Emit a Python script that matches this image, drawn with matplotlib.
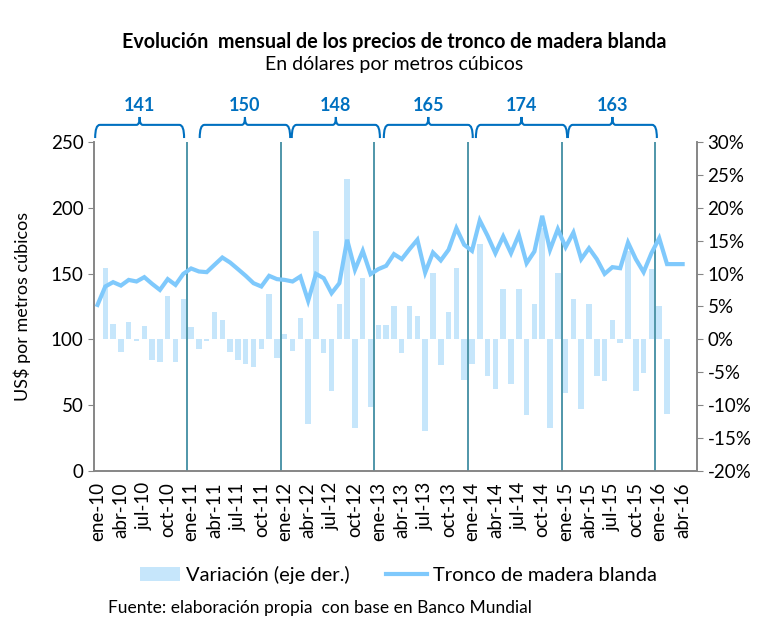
import numpy as np
import matplotlib
matplotlib.use("Agg")
import matplotlib.pyplot as plt
from matplotlib.path import Path
from matplotlib.patches import PathPatch, Patch
from matplotlib.lines import Line2D

plt.rcParams['font.family'] = ['Lato', 'DejaVu Sans']

# Data
meses = ["ene", "feb", "mar", "abr", "may", "jun", "jul", "ago", "sep", "oct", "nov", "dic"]
anios = ["10", "11", "12", "13", "14", "15", "16"]

precio = [
    126.2, 140.2, 143.5, 140.9, 145.2, 144.0, 147.3, 142.2, 137.6, 145.8, 141.4, 149.8,
    153.9, 151.6, 151.1, 156.7, 162.2, 158.4, 153.4, 148.3, 142.7, 140.2, 148.3, 145.8,
    145.2, 144.0, 147.8, 129.3, 149.8, 146.5, 135.1, 142.7, 175.7, 152.9, 167.3, 149.6,
    153.4, 155.9, 164.8, 161.0, 168.6, 175.7, 150.8, 166.0, 160.0, 168.1, 184.5, 171.9,
    167.3, 190.4, 178.7, 165.5, 178.2, 165.5, 179.5, 157.9, 166.8, 193.9, 168.1, 183.8,
    170.1, 181.2, 161.0, 169.3, 161.0, 149.8, 154.9, 154.1, 173.6, 161.0, 151.1, 165.5,
    176.9, 157.2, 157.2, 157.2,
]

variacion = [
    np.nan, 10.8, 2.4, -1.9, 2.7, -0.3, 2.0, -3.1, -3.5, 6.6, -3.5, 6.1,
    1.9, -1.4, -0.2, 4.2, 2.9, -1.9, -3.1, -3.7, -4.2, -1.4, 6.9, -2.9,
    0.8, -1.7, 3.2, -12.9, 16.4, -2.1, -7.8, 5.4, 24.3, -13.4, 9.3, -10.3,
    2.2, 2.2, 5.1, -2.1, 5.1, 3.5, -13.9, 10.1, -3.9, 4.2, 10.8, -6.1,
    -3.7, 14.5, -5.6, -7.6, 7.6, -6.8, 7.6, -11.5, 5.4, 16.9, -13.4, 10.1,
    -8.1, 6.1, -10.6, 5.4, -5.6, -6.3, 2.9, -0.5, 13.4, -7.8, -5.1, 10.7,
    5.1, -11.3, 0.0, 0.0,
]

promedios = ["141", "150", "148", "165", "174", "163"]
# horizontal extent of each brace (in month positions)
llaves = [(-0.3, 11.1), (13.1, 24.7), (24.9, 36.2), (36.7, 48.1), (48.5, 60.2), (60.3, 71.7)]

etiquetas = [f"{m}-{a}" for a in anios for m in meses][:len(precio)]

c_linea = "#7FC9FC"
c_barra = "#C6E6FB"
c_vert = "#31849B"
c_llave = "#0070C0"
c_eje = "#868686"

fig = plt.figure(figsize=(7.66, 6.20), dpi=100)
ax = fig.add_axes([0.1227, 0.2403, 0.7873, 0.5307])
axr = ax.twinx()

x = np.arange(len(precio))
v = np.array(variacion, dtype=float)
axr.bar(x, np.nan_to_num(v), width=0.7, color=c_barra, zorder=1)
ax.plot(x, precio, color=c_linea, lw=3.0, solid_joinstyle="miter", zorder=3)

ax.set_zorder(axr.get_zorder() + 1)
ax.patch.set_visible(False)

for k in range(1, 7):
    ax.axvline(12 * k - 0.5, color=c_vert, lw=1.2, zorder=2)

ax.set_xlim(-0.45, 76.85)
ax.set_ylim(0, 250)
ax.set_yticks(range(0, 251, 50))
axr.set_ylim(-20, 30)
axr.set_yticks(range(-20, 31, 5))
axr.set_yticklabels([f"{t}%" for t in range(-20, 31, 5)])

ax.set_xticks(x[::3])
ax.set_xticklabels(etiquetas[::3], rotation=90, fontsize=13.5)
ax.tick_params(axis="x", length=0, pad=8)
ax.tick_params(axis="y", labelsize=13.5, length=4, color=c_eje)
axr.tick_params(axis="y", labelsize=13.5, length=4, color=c_eje)

for a in (ax, axr):
    a.spines["top"].set_visible(False)
    for s in ("left", "right", "bottom"):
        a.spines[s].set_color(c_eje)
        a.spines[s].set_linewidth(1.2)

ax.set_ylabel("US$ por metros cúbicos", fontsize=13, labelpad=14)

# Braces with yearly averages
tr = ax.get_xaxis_transform()
y0, y1, y2 = 1.012, 1.052, 1.076
for (xa, xb), txt in zip(llaves, promedios):
    xm = (xa + xb) / 2
    verts = [(xa, y0), (xa, y1), (xa + 0.6, y1),
             (xm - 0.4, y1), (xm, y1), (xm, y2),
             (xm, y1), (xm + 0.4, y1),
             (xb - 0.6, y1), (xb, y1), (xb, y0)]
    codes = [Path.MOVETO, Path.CURVE3, Path.CURVE3,
             Path.LINETO, Path.CURVE3, Path.CURVE3,
             Path.CURVE3, Path.CURVE3,
             Path.LINETO, Path.CURVE3, Path.CURVE3]
    ax.add_patch(PathPatch(Path(verts, codes), fill=False, edgecolor=c_llave,
                           lw=1.5, transform=tr, clip_on=False))
    ax.text(xm, y2 + 0.008, txt, transform=tr, ha="center", va="bottom",
            fontsize=13, fontweight="bold", color=c_llave)

fig.text(0.515, 0.932, "Evolución  mensual de los precios de tronco de madera blanda",
         ha="center", va="center", fontsize=14.2, fontweight="bold")
fig.text(0.515, 0.896, "En dólares por metros cúbicos", ha="center", va="center", fontsize=14)

handles = [Patch(facecolor=c_barra, edgecolor="none"),
           Line2D([0], [0], color=c_linea, lw=3)]
fig.legend(handles, ["Variación (eje der.)", "Tronco de madera blanda"],
           loc="center", bbox_to_anchor=(0.52, 0.073), ncol=2, frameon=False,
           fontsize=14.5, handlelength=2.0, columnspacing=1.8, handletextpad=0.3)

fig.text(0.141, 0.019, "Fuente: elaboración propia  con base en Banco Mundial",
         ha="left", va="center", fontsize=12.5)

fig.savefig("out.png", dpi=100)
